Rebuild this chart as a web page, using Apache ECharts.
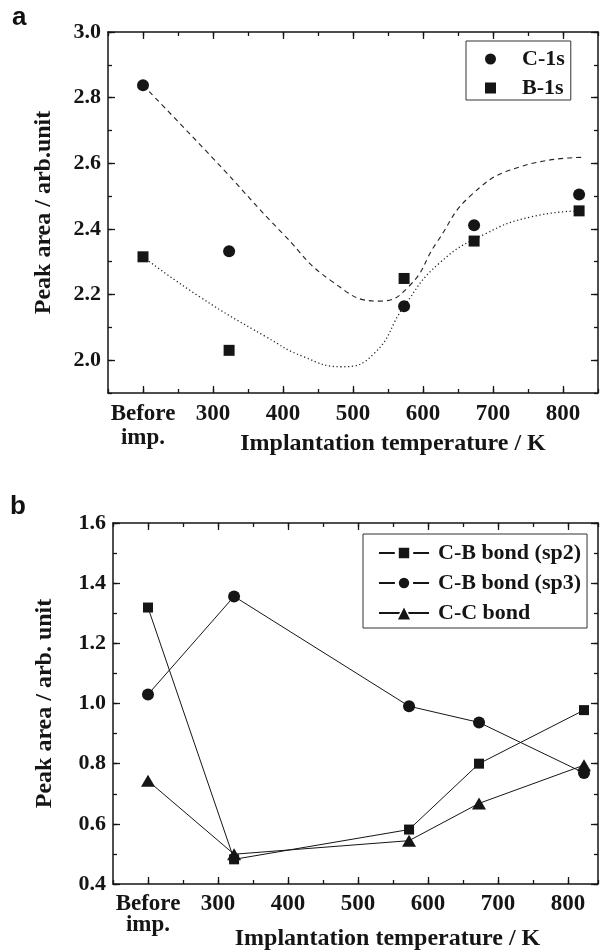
<!DOCTYPE html>
<html><head><meta charset="utf-8">
<script src="https://cdn.jsdelivr.net/npm/echarts@6/dist/echarts.min.js"></script>
<style>html,body{margin:0;padding:0;background:#fff}#c{width:600px;height:950px}</style>
</head><body><div id="c"></div>
<script>
// ---------- Panel a data ----------
const tempsA = [200, 323, 573, 673, 823];
const c1s = [2.838, 2.332, 2.164, 2.411, 2.505];
const b1s = [2.315, 2.030, 2.249, 2.363, 2.455];
// fitted guide curves
const fitCT = [200, 300, 400, 470, 537, 580, 620, 670, 740, 826];
const fitCV = [2.838, 2.615, 2.385, 2.24, 2.18, 2.225, 2.36, 2.505, 2.59, 2.618];
const fitBT = [200, 281, 376, 430, 484, 530, 573, 623, 690, 755, 823];
const fitBV = [2.315, 2.193, 2.071, 2.01, 1.98, 2.02, 2.164, 2.295, 2.386, 2.437, 2.455];

// ---------- Panel b data ----------
const tempsB = [200, 323, 573, 673, 823];
const sp2 = [1.319, 0.482, 0.581, 0.800, 0.978];
const sp3 = [1.030, 1.356, 0.991, 0.937, 0.769];
const ccBond = [0.743, 0.499, 0.544, 0.668, 0.795];

// ---------- ticks ----------
const xMajor = [200, 300, 400, 500, 600, 700, 800];
const xFirstLabel = 'Before\nimp.';
const yMajorA = [2.0, 2.2, 2.4, 2.6, 2.8, 3.0];
const yMajorB = [0.4, 0.6, 0.8, 1.0, 1.2, 1.4, 1.6];
const namesA = ['C-1s', 'B-1s'];
const namesB = ['C-B bond (sp2)', 'C-B bond (sp3)', 'C-C bond'];

const FONT = 'Liberation Serif';
const INK = '#151515';
const pair = (xs, ys) => xs.map((x, i) => [x, ys[i]]);

function xAxes(grid, min, max, titleGap, titlePad, lineH, margin) {
  const base = {gridIndex: grid, type: 'value', min: min, max: max, interval: 50,
    splitLine: {show: false}};
  return [
    Object.assign({}, base, {position: 'bottom',
      axisLine: {show: true, lineStyle: {color: INK, width: 1.5}},
      axisTick: {show: true, inside: true, length: 4, lineStyle: {color: INK, width: 1.3}},
      axisLabel: {show: true, customValues: xMajor, margin: margin, color: INK,
        fontFamily: FONT, fontWeight: 'bold', fontSize: 23, lineHeight: lineH,
        formatter: v => v === xMajor[0] ? xFirstLabel : String(v)},
      name: 'Implantation temperature / K', nameLocation: 'middle', nameGap: titleGap,
      nameMoveOverlap: false,
      nameTextStyle: {fontFamily: FONT, fontWeight: 'bold', fontSize: 24, color: INK,
        padding: [0, 0, 0, titlePad]}}),
    Object.assign({}, base, {position: 'bottom', axisLine: {show: false}, axisLabel: {show: false},
      axisTick: {show: true, inside: true, length: 7, customValues: xMajor, lineStyle: {color: INK, width: 1.3}}}),
    Object.assign({}, base, {position: 'top',
      axisLine: {show: true, lineStyle: {color: INK, width: 1.5}}, axisLabel: {show: false},
      axisTick: {show: true, inside: true, length: 4, lineStyle: {color: INK, width: 1.3}}}),
    Object.assign({}, base, {position: 'top', axisLine: {show: false}, axisLabel: {show: false},
      axisTick: {show: true, inside: true, length: 7, customValues: xMajor, lineStyle: {color: INK, width: 1.3}}})
  ];
}
function yAxes(grid, min, max, major, title, gap) {
  const base = {gridIndex: grid, type: 'value', min: min, max: max, interval: 0.1,
    splitLine: {show: false}};
  return [
    Object.assign({}, base, {position: 'left',
      axisLine: {show: true, lineStyle: {color: INK, width: 1.5}},
      axisTick: {show: true, inside: true, length: 4, lineStyle: {color: INK, width: 1.3}},
      axisLabel: {show: true, customValues: major, margin: 7, color: INK,
        fontFamily: FONT, fontWeight: 'bold', fontSize: 22, formatter: v => v.toFixed(1)},
      name: title, nameLocation: 'middle', nameGap: gap, nameMoveOverlap: false,
      nameTextStyle: {fontFamily: FONT, fontWeight: 'bold', fontSize: 24, color: INK}}),
    Object.assign({}, base, {position: 'left', axisLine: {show: false}, axisLabel: {show: false},
      axisTick: {show: true, inside: true, length: 7, customValues: major, lineStyle: {color: INK, width: 1.3}}}),
    Object.assign({}, base, {position: 'right',
      axisLine: {show: true, lineStyle: {color: INK, width: 1.5}}, axisLabel: {show: false},
      axisTick: {show: true, inside: true, length: 4, lineStyle: {color: INK, width: 1.3}}}),
    Object.assign({}, base, {position: 'right', axisLine: {show: false}, axisLabel: {show: false},
      axisTick: {show: true, inside: true, length: 7, customValues: major, lineStyle: {color: INK, width: 1.3}}})
  ];
}

const legendText = {fontFamily: FONT, fontWeight: 'bold', fontSize: 22, lineHeight: 22, color: INK};

const option = {
  animation: false,
  backgroundColor: '#fff',
  grid: [
    {left: 108, top: 32, width: 490, height: 361, outerBoundsMode: 'none', containLabel: false},
    {left: 113, top: 523, width: 485, height: 361, outerBoundsMode: 'none', containLabel: false}
  ],
  xAxis: [].concat(xAxes(0, 150, 850, 39, 80, 24, 9), xAxes(1, 150, 843, 43, 64, 21, 10)),
  yAxis: [].concat(yAxes(0, 1.9, 3.0, yMajorA, 'Peak area / arb.unit', 52),
                   yAxes(1, 0.4, 1.6, yMajorB, 'Peak area / arb. unit', 56)),
  legend: [
    {orient: 'vertical', left: 466, top: 41, data: [{name: namesA[0], icon: 'circle'}, {name: namesA[1], icon: 'rect'}],
      itemWidth: 11, itemHeight: 11, itemGap: 7, padding: [7, 6, 1, 19],
      itemStyle: {opacity: 1, color: INK},
      borderColor: '#333', borderWidth: 1, textStyle: Object.assign({padding: [0, 0, 0, 21]}, legendText)},
    {orient: 'vertical', left: 363, top: 534,
      data: [namesB[0], namesB[1], {name: namesB[2], itemStyle: {borderColor: '#fff', borderWidth: 1.5}}],
      itemWidth: 50, itemHeight: 18, itemGap: 8, padding: [8, 6, 4, 15],
      itemStyle: {borderColor: '#fff', borderWidth: 4},
      borderColor: '#333', borderWidth: 1, textStyle: Object.assign({padding: [0, 0, 0, 4]}, legendText)}
  ],
  graphic: [
    {type: 'text', left: 12, top: 5, style: {text: 'a', fontFamily: 'Liberation Sans', fontWeight: 'bold', fontSize: 26, fill: '#111'}},
    {type: 'text', left: 10, top: 494, style: {text: 'b', fontFamily: 'Liberation Sans', fontWeight: 'bold', fontSize: 26, fill: '#111'}}
  ],
  series: [
    {name: 'fitC', type: 'line', xAxisIndex: 0, yAxisIndex: 0, data: pair(fitCT, fitCV),
      symbol: 'none', smooth: 0.5, silent: true, z: 1,
      lineStyle: {color: '#222', width: 1.1, type: [5, 4]}},
    {name: 'fitB', type: 'line', xAxisIndex: 0, yAxisIndex: 0, data: pair(fitBT, fitBV),
      symbol: 'none', smooth: 0.5, silent: true, z: 1,
      lineStyle: {color: '#222', width: 1.3, type: [1.2, 2.6]}},
    {name: namesA[0], type: 'scatter', xAxisIndex: 0, yAxisIndex: 0, data: pair(tempsA, c1s),
      symbol: 'circle', symbolSize: 12, z: 3, itemStyle: {color: INK, opacity: 1}},
    {name: namesA[1], type: 'scatter', xAxisIndex: 0, yAxisIndex: 0, data: pair(tempsA, b1s),
      symbol: 'rect', symbolSize: 11, z: 3, itemStyle: {color: INK, opacity: 1}},

    {name: namesB[0], type: 'line', xAxisIndex: 4, yAxisIndex: 4, data: pair(tempsB, sp2),
      symbol: 'rect', symbolSize: 10, showSymbol: true, z: 3,
      itemStyle: {color: INK}, lineStyle: {color: INK, width: 1}},
    {name: namesB[1], type: 'line', xAxisIndex: 4, yAxisIndex: 4, data: pair(tempsB, sp3),
      symbol: 'circle', symbolSize: 12, showSymbol: true, z: 3,
      itemStyle: {color: INK}, lineStyle: {color: INK, width: 1}},
    {name: namesB[2], type: 'line', xAxisIndex: 4, yAxisIndex: 4, data: pair(tempsB, ccBond),
      symbol: 'triangle', symbolSize: [14, 12], showSymbol: true, z: 3,
      itemStyle: {color: INK}, lineStyle: {color: INK, width: 1}}
  ]
};
const chart = echarts.init(document.getElementById('c'), null, {renderer: 'canvas'});
chart.setOption(option);
</script>
</body></html>
